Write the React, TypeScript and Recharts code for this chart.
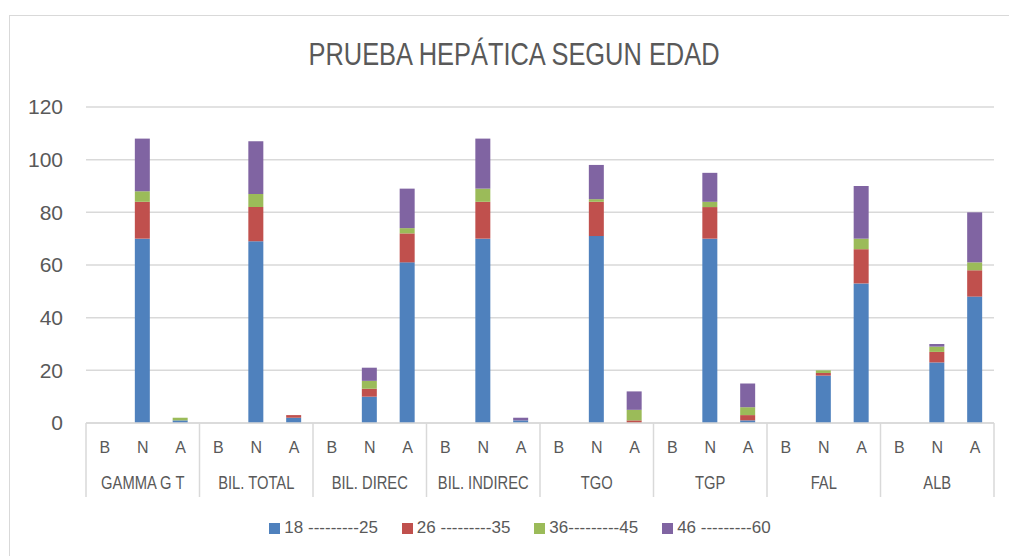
import React from 'react'
import { BarChart, Bar, XAxis, YAxis, CartesianGrid, Legend } from 'recharts'

// categories (two-level axis)
const groups = ['GAMMA G T', 'BIL. TOTAL', 'BIL. DIREC', 'BIL. INDIREC', 'TGO', 'TGP', 'FAL', 'ALB']
const levels = ['B', 'N', 'A']

// series, one value per group x level (B, N, A)
const ageNames = ['18 ---------25', '26 ---------35', '36---------45', '46 ---------60']
const age18to25 = [0, 70, 1, 0, 69, 2, 0, 10, 61, 0, 70, 1, 0, 71, 0, 0, 70, 1, 0, 18, 53, 0, 23, 48]
const age26to35 = [0, 14, 0, 0, 13, 1, 0, 3, 11, 0, 14, 0, 0, 13, 1, 0, 12, 2, 0, 1, 13, 0, 4, 10]
const age36to45 = [0, 4, 1, 0, 5, 0, 0, 3, 2, 0, 5, 0, 0, 1, 4, 0, 2, 3, 0, 1, 4, 0, 2, 3]
const age46to60 = [0, 20, 0, 0, 20, 0, 0, 5, 15, 0, 19, 1, 0, 13, 7, 0, 11, 9, 0, 0, 20, 0, 1, 19]
const yTicks = [0, 20, 40, 60, 80, 100, 120]

const colors = ['#4f81bd', '#c0504d', '#9bbb59', '#8064a2']
const seriesKeys = ['s1', 's2', 's3', 's4']

const data = groups.flatMap((g, gi) =>
  levels.map((l, li) => {
    const i = gi * 3 + li
    return {
      group: g,
      level: l,
      s1: age18to25[i],
      s2: age26to35[i],
      s3: age36to45[i],
      s4: age46to60[i],
    }
  })
)

const W = 1009
const H = 556
const MARGIN = { top: 107, right: 15, left: 0, bottom: 57 }
const Y_W = 86
const BAND = (W - Y_W - MARGIN.right) / data.length
const GRID = '#d9d9d9'
const TEXT = '#595959'
const SANS = '"Liberation Sans", Arial, sans-serif'

// inner row: B / N / A, plus the group separators running down both rows
const LevelTick = (props: any) => {
  const { x, y, payload, index } = props
  return (
    <g>
      {index % 3 === 0 && (
        <line x1={x - BAND / 2} x2={x - BAND / 2} y1={y} y2={y + 74} stroke={GRID} strokeWidth={1.5} />
      )}
      {index === data.length - 1 && (
        <line x1={x + BAND / 2} x2={x + BAND / 2} y1={y} y2={y + 74} stroke={GRID} strokeWidth={1.5} />
      )}
      <text x={x} y={y + 30} textAnchor="middle" fill={TEXT} fontSize={16} fontFamily={SANS}>
        {payload.value}
      </text>
    </g>
  )
}

// outer row: test names, one per group
const GroupTick = (props: any) => {
  const { x, y, payload, index } = props
  if (index % 3 !== 1) return <g />
  return (
    <text
      transform={`translate(${x},${y + 28}) scale(0.82,1)`}
      textAnchor="middle"
      fill={TEXT}
      fontSize={18}
      fontFamily={SANS}
    >
      {payload.value}
    </text>
  )
}

const LegendContent = () => (
  <div style={{ display: 'flex', justifyContent: 'center', gap: 24, fontFamily: SANS, fontSize: 17, color: TEXT }}>
    {ageNames.map((name, i) => (
      <span key={name} style={{ display: 'flex', alignItems: 'center', gap: 4 }}>
        <span style={{ width: 11, height: 11, background: colors[i], display: 'inline-block' }} />
        {name}
      </span>
    ))}
  </div>
)

export default function App() {
  return (
    <div style={{ position: 'relative', width: W, height: H, overflow: 'hidden', background: '#fff' }}>
      <style>{'body{margin:0;overflow:hidden}'}</style>
      <div
        style={{
          position: 'absolute',
          left: 9,
          top: 15,
          width: 1040,
          height: 600,
          border: `1.5px solid ${GRID}`,
        }}
      />
      <div
        style={{
          position: 'absolute',
          left: 0,
          top: 39,
          width: 1028,
          textAlign: 'center',
          fontFamily: SANS,
          fontSize: 31,
          lineHeight: '31px',
          color: TEXT,
          transform: 'scaleX(0.82)',
        }}
      >
        PRUEBA HEPÁTICA SEGUN EDAD
      </div>
      <div style={{ position: 'absolute', left: 0, top: 0 }}>
        <BarChart width={W} height={H} data={data} margin={MARGIN} barSize={15}>
          <CartesianGrid vertical={false} stroke={GRID} strokeWidth={1.5} xAxisId="a" />
          <XAxis
            xAxisId="a"
            dataKey="level"
            interval={0}
            tickLine={false}
            tickSize={0}
            tickMargin={0}
            height={38}
            axisLine={{ stroke: GRID, strokeWidth: 1.5 }}
            tick={<LevelTick />}
          />
          <XAxis
            xAxisId="b"
            dataKey="group"
            interval={0}
            tickLine={false}
            tickSize={0}
            tickMargin={0}
            axisLine={false}
            height={38}
            tick={<GroupTick />}
          />
          <YAxis
            width={Y_W}
            domain={[0, 120]}
            ticks={yTicks}
            axisLine={false}
            tickLine={false}
            tickSize={0}
            tickMargin={23}
            tick={{ fill: TEXT, fontSize: 21, fontFamily: SANS }}
          />
          <Legend
            layout="horizontal"
            verticalAlign="middle"
            align="center"
            content={<LegendContent />}
            wrapperStyle={{ top: 518, left: 0, width: 1040 }}
          />
          {seriesKeys.map((k, i) => (
            <Bar
              key={k}
              xAxisId="a"
              dataKey={k}
              name={ageNames[i]}
              stackId="edad"
              fill={colors[i]}
              isAnimationActive={false}
            />
          ))}
        </BarChart>
      </div>
    </div>
  )
}
